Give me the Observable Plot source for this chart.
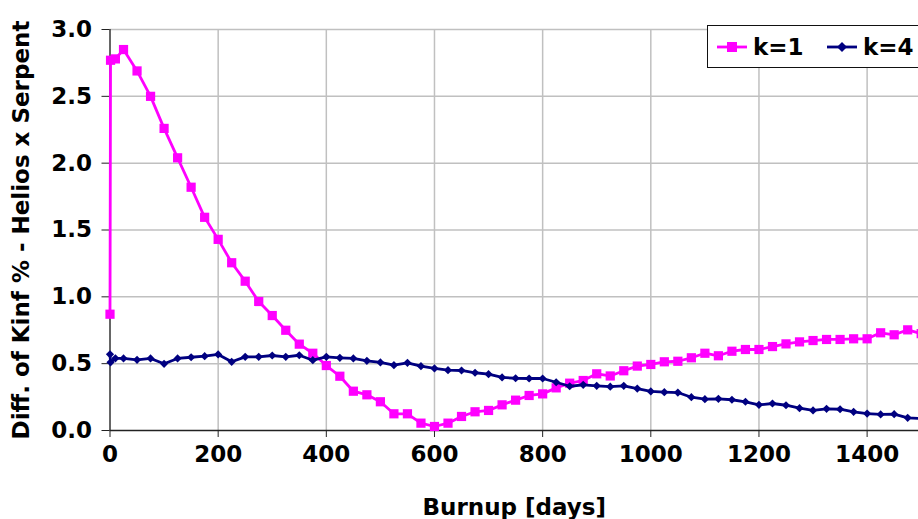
<!DOCTYPE html>
<html>
<head>
<meta charset="utf-8">
<script src="https://cdn.jsdelivr.net/npm/d3@7"></script>
<script src="https://cdn.jsdelivr.net/npm/@observablehq/plot@0.6"></script>
<style>
  html, body { margin: 0; padding: 0; background: #fff; overflow: hidden; }
  #wrap { position: relative; width: 918px; height: 519px; overflow: hidden; font-family: "DejaVu Sans", Verdana, sans-serif; font-weight: bold; }
  #legend { position: absolute; left: 707px; top: 25px; width: 240px; height: 43px; border: 1px solid #111; background: #fff; box-sizing: border-box; }
  .item { position: absolute; top: 0; height: 41px; display: flex; align-items: center; font-size: 23px; color: #000; }
  .item svg { margin-right: 6px; }
</style>
</head>
<body>
<div id="wrap"><div id="chart"></div><div id="legend"></div></div>
<script>
// Burnup (days)
const days = [0, 1, 10, 25, 50, 75, 100, 125, 150, 175, 200, 225, 250, 275, 300, 325, 350, 375, 400,
  425, 450, 475, 500, 525, 550, 575, 600, 625, 650, 675, 700, 725, 750, 775, 800, 825, 850, 875, 900,
  925, 950, 975, 1000, 1025, 1050, 1075, 1100, 1125, 1150, 1175, 1200, 1225, 1250, 1275, 1300, 1325,
  1350, 1375, 1400, 1425, 1450, 1475, 1500];

// k=1 series
const k1 = [0.87, 2.77, 2.78, 2.85, 2.69, 2.50, 2.26, 2.04, 1.82, 1.595, 1.43, 1.255, 1.117, 0.965, 0.86,
  0.75, 0.646, 0.578, 0.486, 0.406, 0.294, 0.267, 0.215, 0.125, 0.125, 0.055, 0.03, 0.055, 0.105, 0.14,
  0.15, 0.192, 0.227, 0.262, 0.274, 0.319, 0.354, 0.374, 0.424, 0.408, 0.447, 0.482, 0.494, 0.514, 0.518,
  0.544, 0.578, 0.559, 0.593, 0.606, 0.606, 0.628, 0.648, 0.663, 0.673, 0.681, 0.681, 0.686, 0.686,
  0.731, 0.716, 0.753, 0.725];

// k=4 series
const k4 = [0.57, 0.51, 0.54, 0.539, 0.529, 0.539, 0.499, 0.539, 0.548, 0.556, 0.569, 0.514, 0.551, 0.551,
  0.561, 0.551, 0.563, 0.526, 0.551, 0.544, 0.539, 0.521, 0.509, 0.489, 0.506, 0.481, 0.464, 0.451, 0.449,
  0.432, 0.421, 0.397, 0.391, 0.389, 0.389, 0.361, 0.331, 0.342, 0.334, 0.328, 0.334, 0.314, 0.292, 0.287,
  0.284, 0.249, 0.234, 0.237, 0.23, 0.215, 0.192, 0.202, 0.189, 0.167, 0.15, 0.162, 0.159, 0.14, 0.127,
  0.12, 0.122, 0.095, 0.09];

const seriesNames = ["k=1", "k=4"];
const seriesColors = ["#ff00ff", "#000080"];
const seriesSymbols = ["square", "diamond2"];

const xTicks = [0, 200, 400, 600, 800, 1000, 1200, 1400];
const yTicks = [0, 0.5, 1.0, 1.5, 2.0, 2.5, 3.0];
const xTitle = "Burnup [days]";
const yTitle = "Diff. of Kinf % - Helios x Serpent";

const d1 = days.map((d, i) => ({x: d, y: k1[i]}));
const d4 = days.map((d, i) => ({x: d, y: k4[i]}));

const chart = Plot.plot({
  width: 918,
  height: 519,
  marginLeft: 109.5,
  marginRight: 0,
  marginTop: 29,
  marginBottom: 89,
  style: {fontFamily: "DejaVu Sans, Verdana, sans-serif", fontWeight: "bold", fontSize: "23px", color: "#000", background: "#fff"},
  x: {domain: [0, 1495], type: "linear"},
  y: {domain: [0, 3]},
  marks: [
    Plot.gridX(xTicks.filter(t => t > 0), {stroke: "#c0c0c0", strokeOpacity: 1, strokeWidth: 1.5}),
    Plot.gridY(yTicks.filter(t => t > 0), {stroke: "#c0c0c0", strokeOpacity: 1, strokeWidth: 1.5}),
    Plot.axisX(xTicks, {tickSize: 7, tickPadding: 8, stroke: "#222", fontSize: 23, tickFormat: d => String(d), label: xTitle, labelAnchor: "center", labelArrow: "none", labelOffset: 84}),
    Plot.axisY(yTicks, {tickSize: 8, tickPadding: 10, stroke: "#222", fontSize: 23, tickFormat: d3.format(".1f"), label: yTitle, labelAnchor: "center", labelArrow: "none", labelOffset: 97}),
    Plot.ruleY([0], {stroke: "#222", strokeWidth: 1.5}),
    Plot.ruleX([0], {stroke: "#333", strokeWidth: 1.5}),
    Plot.line(d1, {x: "x", y: "y", stroke: seriesColors[0], strokeWidth: 2.8}),
    Plot.dot(d1, {x: "x", y: "y", symbol: seriesSymbols[0], r: 5.2, fill: seriesColors[0], stroke: "none"}),
    Plot.line(d4, {x: "x", y: "y", stroke: seriesColors[1], strokeWidth: 2.8}),
    Plot.dot(d4, {x: "x", y: "y", symbol: seriesSymbols[1], r: 3.7, fill: seriesColors[1], stroke: "none"})
  ]
});
document.getElementById("chart").appendChild(chart);

// Legend
const legend = document.getElementById("legend");
const legendX = [9, 119];
seriesNames.forEach((name, i) => {
  const item = document.createElement("div");
  item.className = "item";
  item.style.left = legendX[i] + "px";
  const marker = i === 0
    ? `<rect x="10" y="5" width="10" height="10" fill="${seriesColors[i]}"/>`
    : `<path d="M15,5 L20,10 L15,15 L10,10 Z" fill="${seriesColors[i]}"/>`;
  item.innerHTML = `<svg width="30" height="20"><line x1="0" y1="10" x2="30" y2="10" stroke="${seriesColors[i]}" stroke-width="2.8"/>${marker}</svg><span>${name}</span>`;
  legend.appendChild(item);
});
</script>
</body>
</html>
